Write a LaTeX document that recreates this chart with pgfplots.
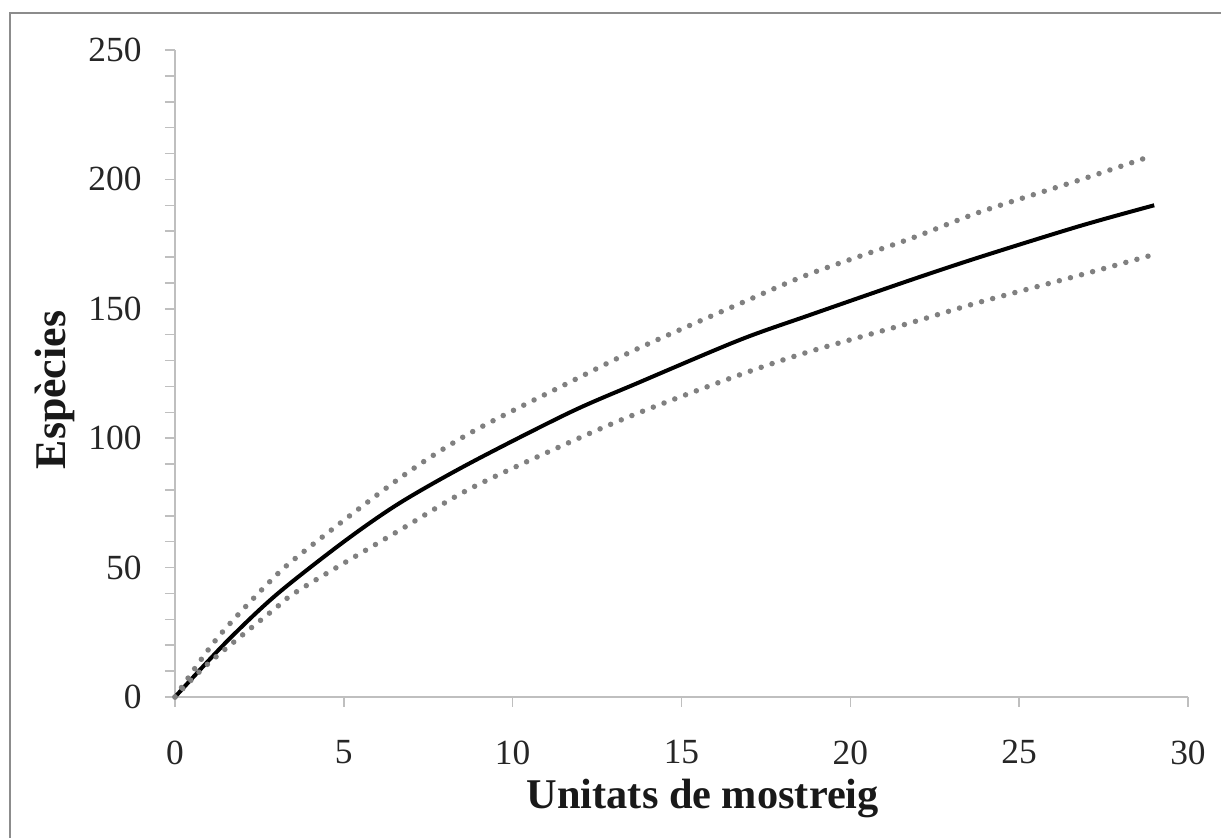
\documentclass[border=0pt]{standalone}
\usepackage{fontspec}
\setmainfont{Liberation Serif}
\usepackage{pgfplots}
\pgfplotsset{compat=1.18}
\begin{document}
\begin{tikzpicture}
\useasboundingbox (0,0) rectangle (1221bp,838bp);
\draw[black!45, line width=2bp] (10bp,0) -- (10bp,825bp) -- (1221bp,825bp);
\begin{axis}[
  at={(175bp,141bp)}, anchor=south west,
  scale only axis, width=1013bp, height=647bp,
  xmin=0, xmax=30, ymin=0, ymax=250,
  axis x line=bottom, axis y line=left,
  axis line style={-, black!25, line width=1.5bp},
  xtick={0,5,...,30}, ytick={0,50,...,250},
  minor y tick num=4,
  tick align=outside,
  major tick length=10bp, minor tick length=10bp,
  every tick/.style={black!25, line width=1.5bp},
  tick label style={font=\fontsize{35.5}{40}\selectfont, black!85},
  /pgf/number format/assume math mode=true,
  xticklabel style={anchor=north, yshift=-30bp},
  yticklabel style={anchor=east, xshift=-20bp},
  xlabel={Unitats de mostreig}, ylabel={Espècies},
  xlabel style={font=\bfseries\fontsize{42.5}{46}\selectfont, black!90,
    at={(axis description cs:0.521,-0.1716)}, anchor=base},
  ylabel style={font=\bfseries\fontsize{44}{48}\selectfont, black!90,
    at={(axis description cs:-0.1185,0.4745)}, anchor=center, rotate=0},
  clip=false,
]
\addplot[smooth, black, line width=4bp] coordinates {
(0,0) (1.5,21) (3,39.5) (5,60) (6.66,75) (8.74,90.4) (11.70,110)
(13.77,121.7) (16.73,138) (18.80,147.6) (21.76,161) (23.84,170) (26.80,182) (29,190)
};
\addplot[smooth, black!50, line width=5.5bp, line cap=round, dash pattern=on 0pt off 11.5bp] coordinates {
(0,0) (1.23,22.4) (2.71,43.3) (3.70,55) (6.66,84.6) (8.74,102) (11.70,121.7)
(13.77,135) (16.73,152) (18.80,163.5) (21.76,177) (23.84,187.4) (26.80,199.8) (28.75,208.3)
};
\addplot[smooth, black!50, line width=5.5bp, line cap=round, dash pattern=on 0pt off 11.5bp] coordinates {
(0,0) (0.99,13) (2.91,33.6) (3.70,41.5) (6.66,64.5) (8.74,80.5) (11.70,98.5)
(13.77,110) (16.73,124.5) (18.80,133.5) (21.76,144.5) (23.84,152.6) (26.80,163) (29,171)
};
\end{axis}
\end{tikzpicture}
\end{document}
